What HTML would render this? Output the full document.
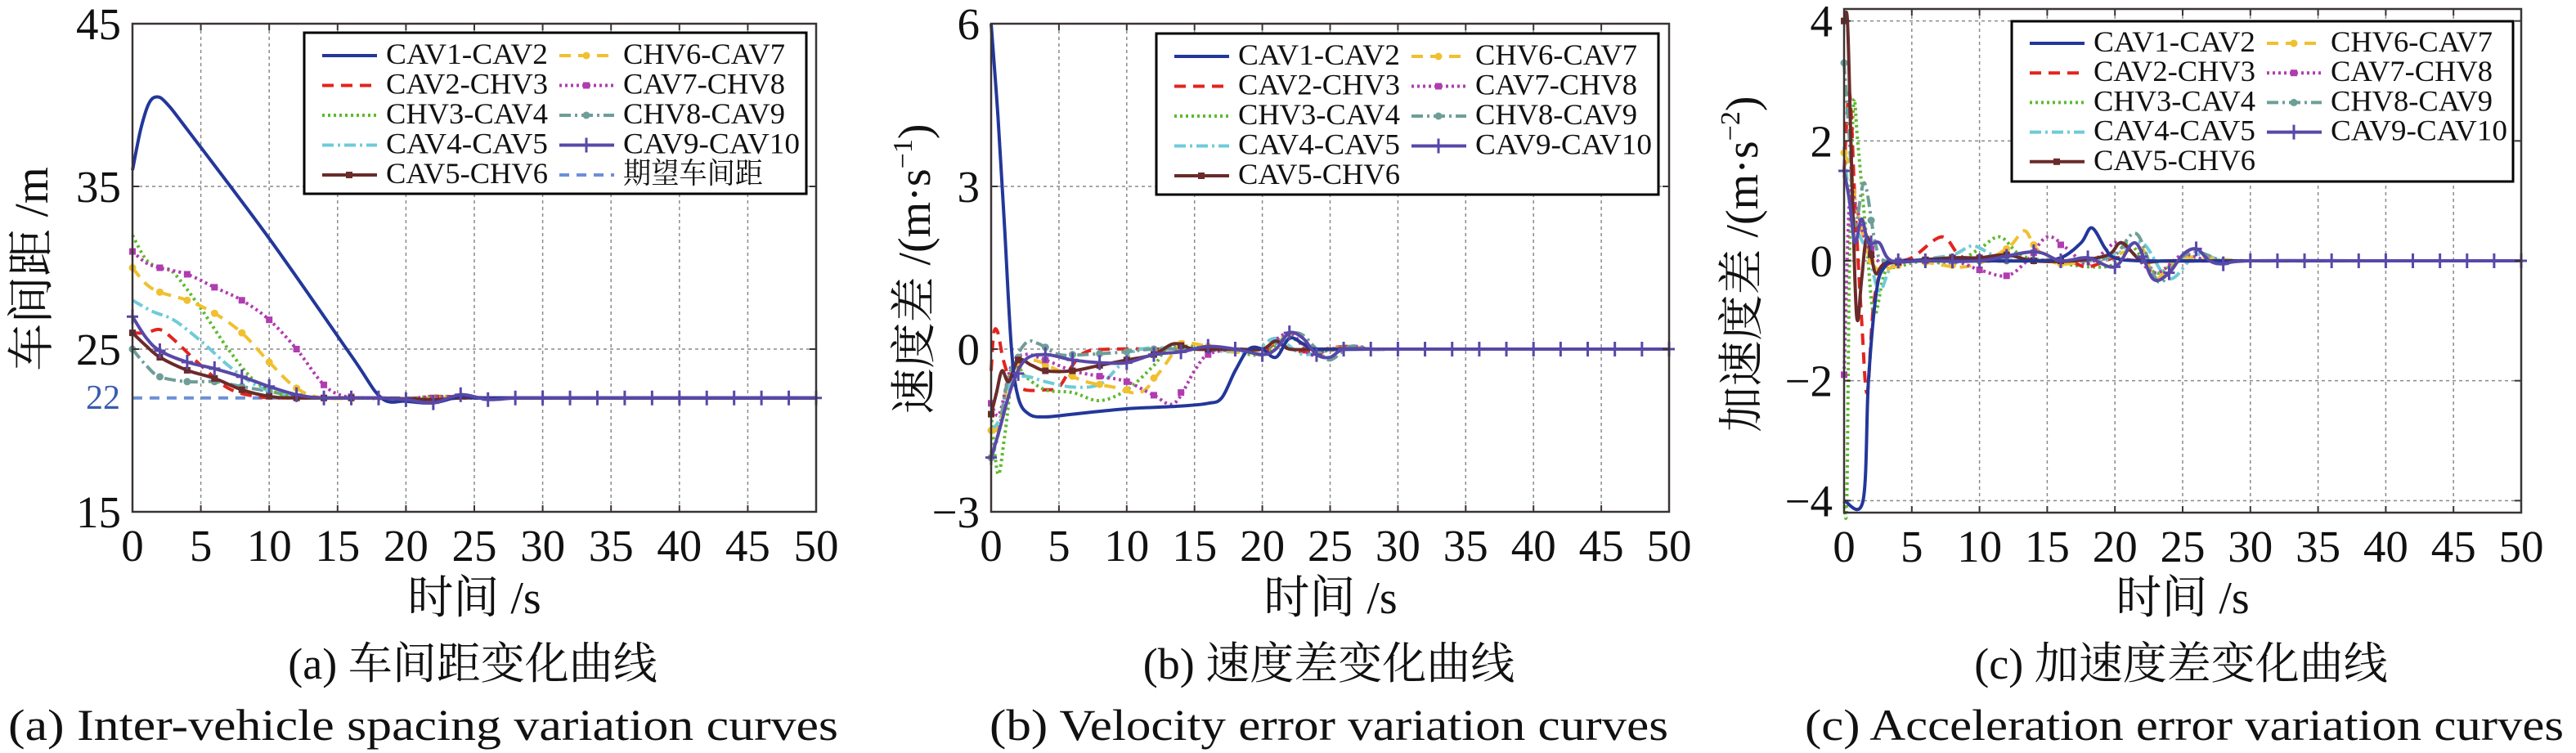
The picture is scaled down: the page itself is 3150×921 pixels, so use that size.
<!DOCTYPE html>
<html><head><meta charset="utf-8"><style>
html,body{margin:0;padding:0;background:#fff;}
svg{display:block;}
text{font-family:"Liberation Serif","Noto Serif CJK SC",serif;fill:#111;}
</style></head><body>
<svg id="s" width="3150" height="921" xmlns="http://www.w3.org/2000/svg"></svg>
<script>
const S=document.getElementById('s');
let out='';
const C={b:'#23379a',r:'#e3241d',g:'#5dba2f',c:'#6fcbd8',m:'#6a2b2b',y:'#f0c02e',p:'#b03cb0',t:'#6e9e98',v:'#5848a8',e:'#6d8fd8'};
function cr(pts){
  let d='M'+pts[0][0].toFixed(1)+','+pts[0][1].toFixed(1);
  for(let i=0;i<pts.length-1;i++){
    const p0=pts[Math.max(0,i-1)],p1=pts[i],p2=pts[i+1],p3=pts[Math.min(pts.length-1,i+2)];
    const c1=[p1[0]+(p2[0]-p0[0])/6,p1[1]+(p2[1]-p0[1])/6];
    const c2=[p2[0]-(p3[0]-p1[0])/6,p2[1]-(p3[1]-p1[1])/6];
    d+=' C'+c1[0].toFixed(1)+','+c1[1].toFixed(1)+' '+c2[0].toFixed(1)+','+c2[1].toFixed(1)+' '+p2[0].toFixed(1)+','+p2[1].toFixed(1);
  }
  return d;
}
const styles={
 b:{c:C.b,d:''},r:{c:C.r,d:'14,9'},g:{c:C.g,d:'3,4'},c:{c:C.c,d:'14,5,3,5'},m:{c:C.m,d:'',mk:'sq'},
 y:{c:C.y,d:'14,9',mk:'dot'},p:{c:C.p,d:'3,4',mk:'sq'},t:{c:C.t,d:'14,5,3,5',mk:'dot'},v:{c:C.v,d:'',mk:'plus'},e:{c:C.e,d:'12,9'}
};
function plot(P){
  const X=t=>P.x0+(P.x1-P.x0)*t/50;
  const Y=v=>P.y0+(P.y1-P.y0)*(P.vmax-v)/(P.vmax-P.vmin);
  for(let t=5;t<50;t+=5) out+=`<line x1="${X(t)}" y1="${P.y0}" x2="${X(t)}" y2="${P.y1}" stroke="#8a8a8a" stroke-width="1.5" stroke-dasharray="4,4"/>`;
  P.yt.forEach(v=>{out+=`<line x1="${P.x0}" y1="${Y(v)}" x2="${P.x1}" y2="${Y(v)}" stroke="#8a8a8a" stroke-width="1.5" stroke-dasharray="4,4"/>`;});
  P.series.forEach(s=>{
    const st=styles[s.k];
    const pts=s.p.map(q=>[X(q[0]),Y(q[1])]);
    out+=`<path d="${cr(pts)}" fill="none" stroke="${st.c}" stroke-width="4" ${st.d?`stroke-dasharray="${st.d}"`:''} stroke-linejoin="round"/>`;
    if(st.mk){
      for(let t=0;t<=50;t+=2){
        let v=null;
        for(let i=0;i<s.p.length-1;i++){if(t>=s.p[i][0]&&t<=s.p[i+1][0]){const a=(t-s.p[i][0])/(s.p[i+1][0]-s.p[i][0]||1);v=s.p[i][1]+a*(s.p[i+1][1]-s.p[i][1]);break;}}
        if(v===null)continue;
        if(s.k!=='v'&&t>16)continue;
        out+=mark(st.mk,X(t),Y(v),st.c);
      }
    }
  });
  out+=`<rect x="${P.x0}" y="${P.y0}" width="${P.x1-P.x0}" height="${P.y1-P.y0}" fill="none" stroke="#3a3434" stroke-width="2.5"/>`;
  for(let t=0;t<=50;t+=5){
    out+=`<line x1="${X(t)}" y1="${P.y1}" x2="${X(t)}" y2="${P.y1-8}" stroke="#3a3434" stroke-width="2"/><line x1="${X(t)}" y1="${P.y0}" x2="${X(t)}" y2="${P.y0+8}" stroke="#3a3434" stroke-width="2"/>`;
    out+=`<text x="${X(t)}" y="${P.y1+60}" font-size="55" text-anchor="middle">${t}</text>`;
  }
  P.yt.forEach((v,i)=>{
    out+=`<line x1="${P.x0}" y1="${Y(v)}" x2="${P.x0+8}" y2="${Y(v)}" stroke="#3a3434" stroke-width="2"/><line x1="${P.x1}" y1="${Y(v)}" x2="${P.x1-8}" y2="${Y(v)}" stroke="#3a3434" stroke-width="2"/>`;
    out+=`<text x="${P.x0-14}" y="${Y(v)+19}" font-size="55" text-anchor="end">${P.yl[i]}</text>`;
  });
  const L=P.leg;
  out+=`<rect x="${L.x}" y="${L.y}" width="${L.w}" height="${L.h}" fill="#fff" stroke="#000" stroke-width="3"/>`;
  L.items.forEach((it,i)=>{
    const col=i<5?0:1,row=i<5?i:i-5;
    const lx=L.x+22+col*(L.cx), ty=L.y+L.r0+row*L.dr;
    const st=styles[it[0]];
    out+=`<line x1="${lx}" y1="${ty-10}" x2="${lx+67}" y2="${ty-10}" stroke="${st.c}" stroke-width="4" ${st.d?`stroke-dasharray="${st.d}"`:''}/>`;
    if(st.mk)out+=mark(st.mk,lx+33,ty-10,st.c);
    const tl=/[期]/.test(it[1])?171:(it[1].length>9?216:198);
    out+=`<text x="${lx+78}" y="${ty}" font-size="36" textLength="${tl}" lengthAdjust="spacingAndGlyphs">${it[1]}</text>`;
  });
}
function mark(m,x,y,c){
  if(m==='sq')return `<rect x="${x-4}" y="${y-4}" width="8" height="8" fill="${c}"/>`;
  if(m==='dot')return `<circle cx="${x}" cy="${y}" r="4.5" fill="${c}"/>`;
  return `<path d="M${x-7},${y}H${x+7}M${x},${y-9}V${y+9}" stroke="${c}" stroke-width="3"/>`;
}
const legItems=[['b','CAV1-CAV2'],['r','CAV2-CHV3'],['g','CHV3-CAV4'],['c','CAV4-CAV5'],['m','CAV5-CHV6'],['y','CHV6-CAV7'],['p','CAV7-CHV8'],['t','CHV8-CAV9'],['v','CAV9-CAV10'],['e','期望车间距']];
const tail22=[[26,22],[30,22],[40,22],[50,22]];
plot({x0:162,x1:998,y0:29,y1:626,vmin:15,vmax:45,yt:[15,25,35,45],yl:['15','25','35','45'],
 leg:{x:372,y:40,w:614,h:197,cx:290,r0:38,dr:36.5,items:legItems},
 series:[
  {k:'e',p:[[0,22],[50,22]]},
  {k:'t',p:[[0,25],[1,24],[2,23.3],[4,23],[6,23],[8,22.7],[10,22.4],[12,22.1],[14,22],[18,22],[22,21.9],[24,22.1],...tail22]},
  {k:'c',p:[[0,28],[1.5,27.3],[3,26.8],[5,25.5],[7,24],[9,22.8],[11,22.2],[13,22],[18,22],[22,21.9],[24,22.1],...tail22]},
  {k:'r',p:[[0,26],[1,26],[2,26.2],[3,25.6],[5,24],[7,22.6],[9,22.1],[11,22],[18,22],[20,21.9],[22,22.1],...tail22]},
  {k:'g',p:[[0,32],[1,30.5],[2,30],[3,29.7],[5,27.5],[7,25],[9,23],[11,22.2],[13,22],[18,22],[20,21.9],[22,22.1],...tail22]},
  {k:'y',p:[[0,30],[1,29],[2,28.5],[4,28],[6,27.2],[8,26],[10,24.2],[12,22.6],[14,22],[18,22],[20,21.8],[22,22],...tail22]},
  {k:'p',p:[[0,31],[1,30.3],[2,30],[4,29.6],[6,28.8],[8,28],[10,26.8],[12,25],[14,22.8],[15.5,22.1],[17,22],[20,21.9],[22,22.1],[24,22],...tail22]},
  {k:'m',p:[[0,26],[1,25.2],[2,24.5],[4,23.7],[6,23.2],[8,22.5],[10,22.1],[12,22],[18,22],[22,21.9],[24,22],...tail22]},
  {k:'b',p:[[0,36],[0.6,38.5],[1.2,40.1],[1.8,40.5],[2.5,40.1],[4,38.5],[10,31.8],[16,24.6],[18.2,22],[20,21.8],[22,21.7],[24,22.1],[25,22],...tail22]},
  {k:'v',p:[[0,27],[1,25.7],[2,24.9],[4,24.2],[6,23.8],[8,23.3],[10,22.7],[12,22.2],[14,22],[18,22],[20,21.9],[22,21.7],[24,22.2],[26,21.9],[28,22],[30,22],[40,22],[50,22]]}
 ]});
out+=`<text x="147" y="500" font-size="42" text-anchor="end" style="fill:#3a5bb0">22</text>`;
const tailV=[[28,0],[30,0],[40,0],[50,0]];
plot({x0:1212,x1:2041,y0:29,y1:626,vmin:-3,vmax:6,yt:[-3,0,3,6],yl:['−3','0','3','6'],
 leg:{x:1414,y:41,w:614,h:197,cx:290,r0:38,dr:36.5,items:legItems.slice(0,9)},
 series:[
  {k:'r',p:[[0,-0.4],[0.2,0.3],[0.5,0.3],[0.9,-0.2],[1.5,-0.6],[2.5,-0.75],[4,-0.75],[5,-0.7],[6,-0.3],[7,-0.05],[9,0],[14,0],[18,0],[20,-0.1],[21,0.1],[23,-0.05],[26,0.05],...tailV]},
  {k:'g',p:[[0,-1.2],[0.5,-2.3],[1,-1.6],[1.7,-0.3],[2.5,-0.5],[4,-0.75],[6,-0.8],[8,-0.95],[10,-0.75],[12,-0.3],[13,0],[15,0.05],[18,-0.05],[20,-0.1],[22,0.2],[24,-0.05],[26,0.05],...tailV]},
  {k:'c',p:[[0,-1.5],[0.6,-1.3],[1.5,-0.6],[2.5,-0.5],[4,-0.6],[6,-0.7],[8,-0.65],[9.5,-0.3],[11,0],[15,0],[19,-0.05],[21,0.2],[23,-0.1],[25,0],...tailV]},
  {k:'y',p:[[0,-1.5],[0.6,-1.4],[1.5,-0.4],[3,-0.2],[5,-0.4],[7,-0.6],[9,-0.7],[11,-0.8],[12.5,-0.4],[14,0.1],[15,0.1],[18,-0.05],[20,0],[22,0.25],[24,-0.1],[26,0.05],...tailV]},
  {k:'p',p:[[0,-1],[0.6,-1.2],[1.5,-0.3],[2.5,-0.1],[4,-0.2],[6,-0.4],[8,-0.5],[10,-0.6],[12,-0.85],[13.5,-1],[15,-0.4],[16,-0.1],[18,0],[20,0],[22,0.3],[23.5,-0.1],[25,0],[27,0.05],...tailV]},
  {k:'t',p:[[0,-2],[0.5,-1.6],[1.3,-0.5],[2.5,0.1],[3.5,0.1],[5,-0.1],[7,-0.1],[10,-0.05],[12,0],[16,0],[20,0],[22.5,0.3],[24,0],[25,-0.2],[26.5,0.05],...tailV]},
  {k:'m',p:[[0,-1.2],[0.4,-0.8],[0.8,-0.4],[1.3,-0.6],[2,-0.2],[3,-0.3],[4,-0.4],[6,-0.4],[8,-0.3],[10,-0.2],[12,-0.1],[13.5,0.1],[15,0],[18,0],[20,0],[21,0.15],[22,0],[24,0],...tailV]},
  {k:'b',p:[[0,6],[0.5,4.3],[1,2.2],[1.5,0],[2,-0.9],[2.8,-1.2],[4,-1.25],[6,-1.2],[10,-1.1],[14,-1.05],[16,-1],[17,-0.9],[18,-0.4],[19,0],[20,0],[21,-0.15],[22,0.2],[23,0.1],[24,0],...tailV]},
  {k:'v',p:[[0,-2],[0.6,-1.5],[1.5,-0.7],[2.5,-0.2],[4,-0.1],[6,-0.2],[8,-0.25],[10,-0.25],[12,-0.1],[14,-0.05],[16,0.05],[18,0],[20,-0.1],[21,0],[22,0.3],[23,0.2],[24,-0.1],[25,-0.15],[26,0],[28,0],[30,0],[40,0],[50,0]]}
 ]});
const tailA=[[30,0],[40,0],[50,0]];
plot({x0:2255,x1:3083,y0:11,y1:627,vmin:-4.2,vmax:4.2,yt:[-4,-2,0,2,4],yl:['−4','−2','0','2','4'],
 leg:{x:2460,y:26,w:613,h:196,cx:290,r0:37,dr:36.2,items:legItems.slice(0,9)},
 series:[
  {k:'g',p:[[0,-4],[0.2,-4],[0.4,0],[0.7,2.6],[1,2],[1.6,0.5],[2.2,-0.9],[3,-0.2],[4,-0.1],[6,0],[8,-0.05],[10,0.2],[11.5,0.4],[13,0.1],[15,0],[18,-0.1],[20,-0.05],[21,0.3],[23,-0.2],[25,0],...tailA]},
  {k:'c',p:[[0,1.9],[0.4,1],[1,0.5],[1.8,0.1],[2.6,-0.5],[3.5,-0.1],[5,0],[8,0.1],[9.5,0.25],[11,0.1],[13,0],[18,0],[20,0.1],[22,0.3],[24,-0.3],[26,0.1],[28,0],...tailA]},
  {k:'r',p:[[0,1.5],[0.4,2.8],[0.8,1],[1.3,-1],[1.7,-2.2],[2.2,-0.7],[3,-0.1],[5,0.05],[7.2,0.4],[8.5,0.1],[10,0],[16,0],[18,-0.1],[20,0.05],[22,0],...tailA]},
  {k:'y',p:[[0,1.8],[0.5,1.5],[1,0.8],[2,0],[3,-0.15],[5,0],[9,-0.1],[12,0.2],[13.3,0.5],[14.2,0.2],[16,-0.05],[20,0.1],[22,0.2],[23,-0.3],[25,0.05],...tailA]},
  {k:'p',p:[[0,-1.9],[0.4,1],[0.9,0.9],[1.5,0.4],[2.5,0],[5,0],[8,0],[10,-0.15],[12,-0.25],[13.5,0],[15,0.4],[16.5,0.2],[18,-0.05],[20,0.3],[21,0.2],[23,-0.2],[25,0.1],[27,0],...tailA]},
  {k:'t',p:[[0,3.3],[0.4,2],[0.8,0.6],[1.5,1.3],[2.3,0.3],[3,0],[6,0],[10,0],[14,0],[18,0],[20,0.1],[21.6,0.45],[23.2,-0.35],[24.6,0],[26,0.15],[28,0],...tailA]},
  {k:'m',p:[[0,4],[0.25,4],[0.5,2],[0.8,-0.3],[1,-1],[1.3,-0.3],[1.7,0.4],[2.3,-0.2],[3,-0.05],[5,0],[8,0.05],[10,0.05],[12,0.1],[14,0],[17,0],[19.5,0.1],[20.5,0.3],[22,0],[24,0],...tailA]},
  {k:'b',p:[[0,-4],[1.4,-4],[1.8,-2],[2.4,-0.5],[3,-0.1],[4,0],[10,0],[14,0],[16,0.05],[17.5,0.3],[18.3,0.55],[19.3,0.2],[20,0.05],[22,0],...tailA]},
  {k:'v',p:[[0,1.5],[0.4,1],[0.8,0.3],[1.3,0.7],[1.8,0.3],[2.6,0.3],[3.5,0],[6,0],[10,0],[14,0.15],[16,0],[18,0.05],[20,-0.1],[21.5,0.3],[22.8,-0.3],[24,-0.2],[25,0.1],[26,0.2],[27,0],[28,-0.05],...tailA]}
 ]});
out+=`<text x="580" y="750" font-size="56" text-anchor="middle">时间 /s</text>`;
out+=`<text x="1627" y="750" font-size="56" text-anchor="middle">时间 /s</text>`;
out+=`<text x="2669" y="750" font-size="56" text-anchor="middle">时间 /s</text>`;
out+=`<text transform="translate(58,329) rotate(-90)" font-size="58" text-anchor="middle">车间距 /m</text>`;
out+=`<text transform="translate(1137,329) rotate(-90)" font-size="56" text-anchor="middle">速度差 /(m·s<tspan font-size="34" dy="-22">−1</tspan><tspan dy="22">)</tspan></text>`;
out+=`<text transform="translate(2149,323) rotate(-90)" font-size="56" text-anchor="middle">加速度差 /(m·s<tspan font-size="34" dy="-22">−2</tspan><tspan dy="22">)</tspan></text>`;
out+=`<text x="578" y="830" font-size="54" text-anchor="middle">(a) 车间距变化曲线</text>`;
out+=`<text x="1625" y="830" font-size="54" text-anchor="middle">(b) 速度差变化曲线</text>`;
out+=`<text x="2667" y="830" font-size="54" text-anchor="middle">(c) 加速度差变化曲线</text>`;
out+=`<text x="10" y="905" font-size="54" textLength="1015" lengthAdjust="spacingAndGlyphs">(a) Inter-vehicle spacing variation curves</text>`;
out+=`<text x="1210" y="905" font-size="54" textLength="830" lengthAdjust="spacingAndGlyphs">(b) Velocity error variation curves</text>`;
out+=`<text x="2207" y="905" font-size="54" textLength="928" lengthAdjust="spacingAndGlyphs">(c) Acceleration error variation curves</text>`;
S.innerHTML=out;
</script>
</body></html>
